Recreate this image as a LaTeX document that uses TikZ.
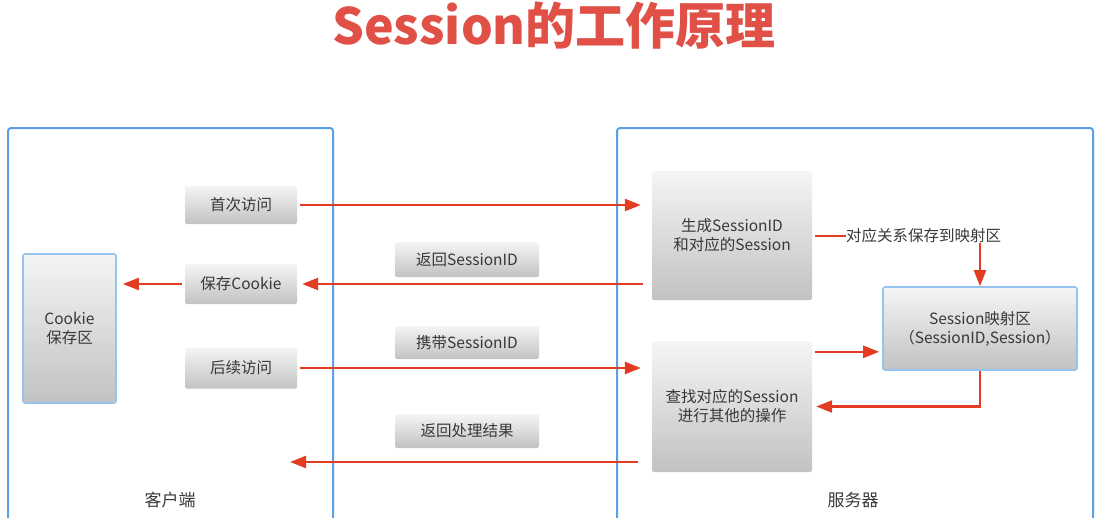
\documentclass[tikz,border=0pt]{standalone}
\usepackage{fontspec}
\setmainfont{Noto Sans CJK SC}
\usetikzlibrary{arrows.meta}
\definecolor{arrred}{RGB}{226,60,34}
\definecolor{titlered}{RGB}{224,80,70}
\definecolor{frameblue}{RGB}{90,160,230}
\definecolor{boxblue}{RGB}{150,195,240}

\begin{document}
\begin{tikzpicture}[x=1pt,y=-1pt,
  every node/.style={font=\fontsize{15.5}{19}\selectfont, text=black!78},
  gbox/.style={rounded corners=2pt, top color=black!4, bottom color=black!24, inner sep=0pt, align=center},
  bbox/.style={gbox, draw=boxblue, line width=1.6pt},
  frame/.style={draw=frameblue, line width=2pt, rounded corners=3pt},
  arr/.style={draw=arrred, line width=2.4pt, -{Triangle[length=16pt,width=12pt]}}]
\useasboundingbox (0,0) rectangle (1098,517);
\node [font=\fontsize{50}{60}\bfseries, text=titlered] (title) at (554,25) {Session的工作原理};

\draw [frame] (8,128) rectangle (333,540);
\draw [frame] (617,128) rectangle (1093,540);
\node [font=\fontsize{17}{20}\selectfont] (client) at (170,500) {客户端};
\node [font=\fontsize{17}{20}\selectfont] (server) at (853,500) {服务器};

\node [bbox, minimum width=93pt, minimum height=149pt] (cookie) at (69.5,328.5) {Cookie\\保存区};
\node [gbox, minimum width=112pt, minimum height=38pt] (first) at (241,205) {首次访问};
\node [gbox, minimum width=112pt, minimum height=40pt] (save) at (241,284) {保存Cookie};
\node [gbox, minimum width=112pt, minimum height=41pt] (next) at (241,368) {后续访问};

\node [gbox, minimum width=144pt, minimum height=35pt] (retid) at (467,259.5) {返回SessionID};
\node [gbox, minimum width=144pt, minimum height=33pt] (carry) at (467,342.5) {携带SessionID};
\node [gbox, minimum width=144pt, minimum height=34pt] (retres) at (467,431) {返回处理结果};

\node [gbox, minimum width=160pt, minimum height=129pt] (gen) at (732,235.5) {生成SessionID\\和对应的Session};
\node [gbox, minimum width=160pt, minimum height=131pt] (find) at (732,406.5) {查找对应的Session\\进行其他的操作};
\node [bbox, minimum width=194pt, minimum height=83pt] (map) at (980,328.5) {Session映射区\\（SessionID,Session）};
\node [anchor=west, inner sep=0pt] (rel) at (846,236) {对应关系保存到映射区};
\coordinate (back) at (290,462);

\draw [arr] ([xshift=3pt]first.east) -- ([xshift=-11pt]first.east -| gen.west);
\draw [arr] ([xshift=-9pt]gen.west |- save.east) -- ([xshift=5pt]save.east);
\draw [arr] ([xshift=-3pt]save.west) -- ([xshift=6pt]cookie.east |- save.west);
\draw [arr] ([xshift=3pt]next.east) -- ([xshift=-11pt]next.east -| find.west);
\draw [arr] ([xshift=-14pt]find.west |- back) -- (back);
\draw [draw=arrred, line width=2.4pt] ([xshift=3pt]gen.east |- rel.west) -- (rel.west);
\draw [arr] (rel.south -| map.north) -- (map.north);
\draw [arr] ([xshift=3pt,yshift=-11pt]find.north east) -- ([xshift=-3pt,yshift=-11pt]find.north east -| map.west);
\draw [arr] (map.south) |- ([xshift=4pt]find.east);
\end{tikzpicture}
\end{document}
